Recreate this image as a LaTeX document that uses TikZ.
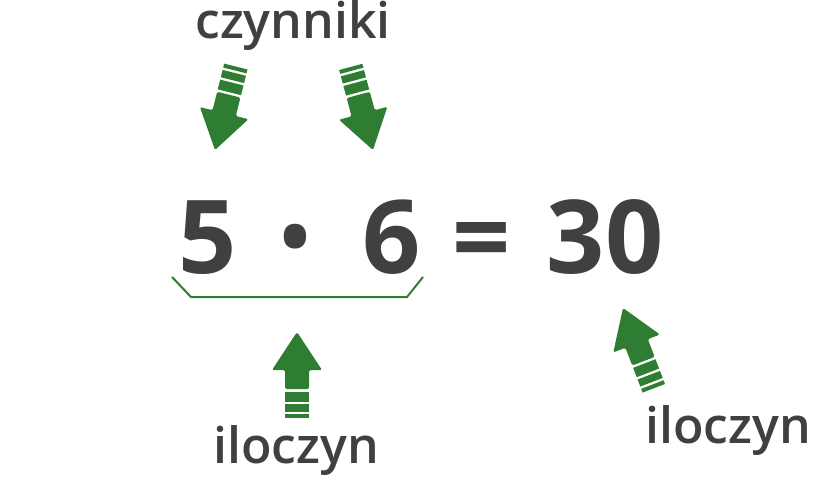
\documentclass[tikz,border=0pt]{standalone}
\usepackage{fontspec}
\setmainfont{Open Sans}
\newfontfamily\semibold{Open Sans Semibold}
\usepackage{xcolor}
\definecolor{arrowgreen}{RGB}{46,125,50}
\definecolor{textgray}{RGB}{64,64,64}
\usetikzlibrary{positioning}
\tikzset{
  pics/greenarrow/.style={code={
    \fill[arrowgreen, rounded corners = 1.5] (0,0) -- (25,-38) -- (12,-38) -- (12,-57) -- (-12,-57) -- (-12,-38) -- (-25,-38) -- cycle;
    \foreach \a/\b in {59.5/69.5, 72/79.5, 82/86}
      \fill[arrowgreen] (-12,-\a) rectangle (12,-\b);
  }}
}

\begin{document}
\begin{tikzpicture}[x = 1pt, y = 1pt,
  num/.style = {textgray, anchor = base, font = \fontsize{102}{102}\selectfont\bfseries},
  word/.style = {textgray, anchor = base, font = \fontsize{50}{50}\selectfont\semibold}]
\fill[white] (0,0) rectangle (840,480);
\useasboundingbox (0,0) rectangle (840,480);
\node[num] (five) at (208,207) {5};
\node[num, font = \fontsize{90}{90}\selectfont\semibold] (dot) at (295,211) {•};
\node[num] (six) at (392,207) {6};
\node[num] (eq) at (482,207) {=};
\node[num] (thirty) at (605,207) {30};
\node[word] (factors) at (293,441) {czynniki};
\node[word] (productL) at (296,17) {iloczyn};
\node[word] (productR) at (728,37) {iloczyn};
\draw[arrowgreen, line width = 2] (172,203) -- (191,183) -- (407,183) -- (423,203);
\pic[rotate = 166] at (215,330) {greenarrow};
\pic[rotate = 195] at (373,330) {greenarrow};
\pic at (297,148) {greenarrow};
\pic[rotate = 21] at (623,172) {greenarrow};
\end{tikzpicture}
\end{document}
